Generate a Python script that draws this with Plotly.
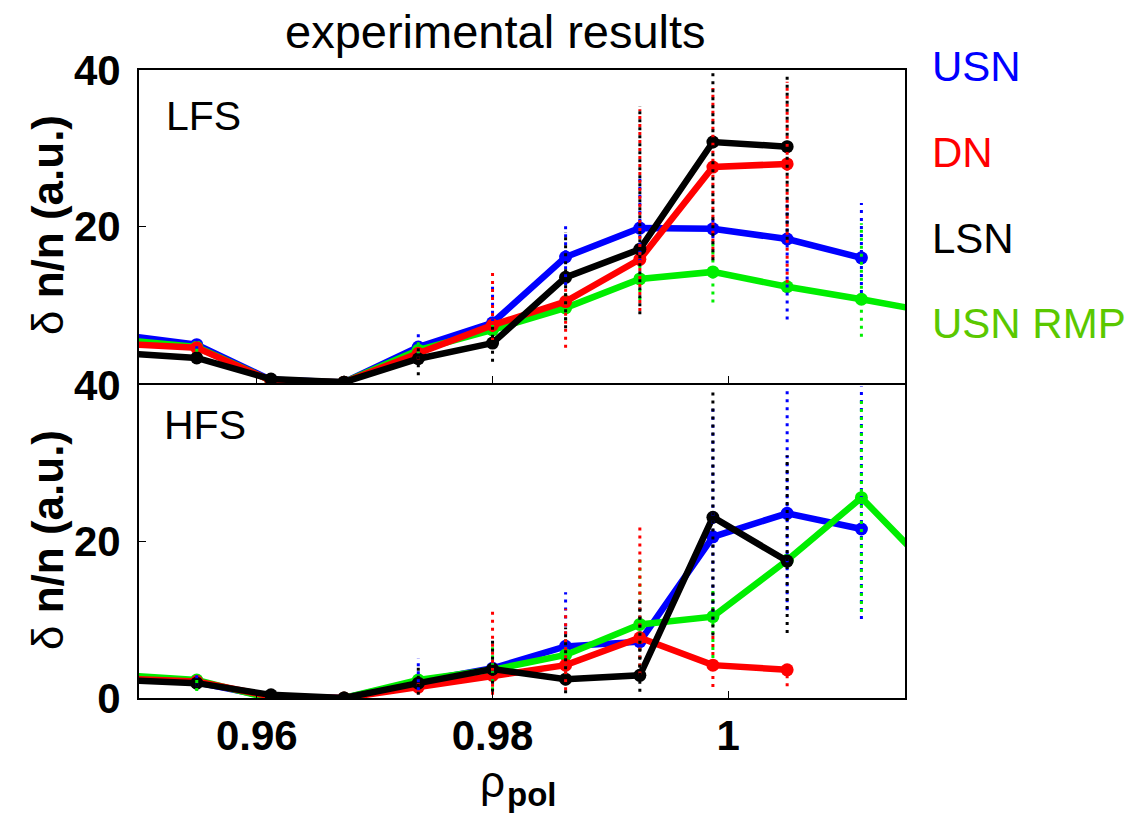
import plotly.graph_objects as go

# radial positions (rho_pol) of the measurement bins
rho = [0.9486, 0.9549, 0.9612, 0.9674, 0.9737, 0.9800, 0.9862, 0.9925, 0.9987, 1.0050, 1.0113, 1.0175]

# mean fluctuation amplitude, low-field side
lfs_usn = [6.1, 4.9, 0.4, 0.1, 4.6, 7.7, 16.1, 19.8, 19.7, 18.4, 16.0, None]
lfs_dn = [5.0, 4.5, 0.3, 0.1, 3.8, 7.4, 10.4, 15.8, 27.6, 28.0, None, None]
lfs_lsn = [3.8, 3.2, 0.5, 0.1, 3.1, 5.1, 13.5, 17.1, 30.8, 30.2, None, None]
lfs_rmp = [5.5, 4.6, 0.3, 0.1, 4.2, 6.8, 9.6, 13.3, 14.2, 12.3, 10.7, 9.0]

# mean fluctuation amplitude, high-field side
hfs_usn = [2.4, 2.0, 0.1, 0.0, 2.1, 3.8, 6.6, 7.2, 20.6, 23.6, 21.6, None]
hfs_dn = [2.5, 2.1, 0.2, 0.0, 1.4, 2.9, 4.2, 7.7, 4.2, 3.6, None, None]
hfs_lsn = [2.3, 1.9, 0.4, 0.0, 1.9, 3.7, 2.4, 2.9, 23.1, 17.5, None, None]
hfs_rmp = [2.9, 2.3, -0.1, 0.0, 2.3, 3.6, 5.5, 9.4, 10.4, 17.6, 25.6, 16.0]

# spread of the individual samples per bin: (bin index, lowest, highest)
lfs_usn_spread = [(1, 4.3, 5.6), (4, 3.8, 6.4), (5, 6.8, 12.4), (6, 12.5, 20.3), (7, 15.5, 26.7),
                  (8, 18.5, 21.0), (9, 8.1, 23.6), (10, 11.5, 23.0)]
lfs_dn_spread = [(4, 3.0, 4.5), (5, 5.5, 14.6), (6, 4.5, 12.5), (7, 9.2, 35.0), (8, 16.0, 37.7),
                 (9, 12.8, 38.5)]
lfs_lsn_spread = [(1, 2.8, 3.6), (4, 1.0, 5.0), (5, 2.7, 7.5), (6, 7.0, 19.3), (7, 8.8, 35.4),
                  (8, 15.7, 40.0), (9, 18.3, 39.6)]
lfs_rmp_spread = [(1, 4.0, 5.0), (4, 3.8, 5.5), (5, 6.0, 8.0), (6, 8.0, 12.0), (7, 10.6, 15.0),
                  (8, 10.3, 18.0), (10, 5.9, 20.4)]

hfs_usn_spread = [(1, 1.5, 3.4), (4, 1.0, 5.1), (5, 2.0, 5.0), (6, 3.0, 13.5), (7, 4.0, 12.0),
                  (8, 10.0, 37.3), (9, 11.2, 39.4), (10, 10.1, 39.8)]
hfs_dn_spread = [(4, 0.5, 2.5), (5, 0.4, 11.2), (6, 1.0, 11.4), (7, 3.0, 22.1), (8, 1.4, 8.0),
                 (9, 1.5, 4.5)]
hfs_lsn_spread = [(1, 1.5, 2.5), (4, 0.4, 4.0), (5, 0.8, 7.6), (6, 0.6, 9.0), (7, 0.8, 13.0),
                  (8, 8.0, 39.6), (9, 8.3, 31.0)]
hfs_rmp_spread = [(1, 0.9, 2.5), (5, 1.0, 6.5), (6, 3.0, 8.0), (7, 4.0, 18.3), (8, 5.1, 14.2),
                  (10, 11.0, 38.5)]

series_names = ["USN", "DN", "LSN", "USN RMP"]
line_colors = {"USN": "#0000ff", "DN": "#ff0000", "LSN": "#000000", "USN RMP": "#00ee00"}
label_colors = {"USN": "#0000ff", "DN": "#ff0000", "LSN": "#000000", "USN RMP": "#5ac800"}

panels = [
    ("y", {"USN": lfs_usn, "DN": lfs_dn, "LSN": lfs_lsn, "USN RMP": lfs_rmp},
     {"USN": lfs_usn_spread, "DN": lfs_dn_spread, "LSN": lfs_lsn_spread, "USN RMP": lfs_rmp_spread}),
    ("y2", {"USN": hfs_usn, "DN": hfs_dn, "LSN": hfs_lsn, "USN RMP": hfs_rmp},
     {"USN": hfs_usn_spread, "DN": hfs_dn_spread, "LSN": hfs_lsn_spread, "USN RMP": hfs_rmp_spread}),
]

draw_order = ["USN", "USN RMP", "DN", "LSN"]

fig = go.Figure()
for yax, means, spreads in panels:
    xax = "x" if yax == "y" else "x2"
    for name in draw_order:
        fig.add_trace(go.Scatter(
            x=rho, y=means[name], xaxis=xax, yaxis=yax, mode="lines+markers",
            line=dict(color=line_colors[name], width=6.5),
            marker=dict(color=line_colors[name], size=13),
            showlegend=False, cliponaxis=True))
    for name in draw_order:
        xs, ys = [], []
        for idx, lo, hi in spreads[name]:
            xs += [rho[idx], rho[idx], None]
            ys += [lo, hi, None]
        fig.add_trace(go.Scatter(
            x=xs, y=ys, xaxis=xax, yaxis=yax, mode="lines",
            line=dict(color=line_colors[name], width=3, dash="3px,5px"),
            showlegend=False))

W, H = 1128, 817
L, R, T, B = 139, 223, 70, 119
pw, ph = W - L - R, H - T - B


def px(xp):
    return (xp - L) / pw


def py(yp):
    return (H - B - yp) / ph


tick_font = dict(family="Liberation Sans, Arial", size=42, color="black", weight="bold")
common_x = dict(range=[0.95, 1.015], tickvals=[0.96, 0.98, 1.0], ticks="inside", ticklen=7,
                tickwidth=1, tickcolor="black", showline=True, linecolor="black", linewidth=2,
                mirror=True, showgrid=False, zeroline=False)
common_y = dict(range=[0, 40], tickvals=[0, 20, 40], ticks="inside", ticklen=7, tickwidth=1,
                tickcolor="black", showline=True, linecolor="black", linewidth=2, mirror=True,
                showgrid=False, zeroline=False, tickfont=tick_font, ticklabelstandoff=8)

split_top = py(383)
split_bot = py(385)

fig.update_layout(
    width=W, height=H, margin=dict(l=L, r=R, t=T, b=B),
    paper_bgcolor="white", plot_bgcolor="white",
    xaxis=dict(common_x, domain=[0, 1], anchor="y", showticklabels=False),
    yaxis=dict(common_y, domain=[split_top, 1], anchor="x", ticktext=["", "20", "40"]),
    xaxis2=dict(common_x, domain=[0, 1], anchor="y2", tickfont=tick_font,
                ticktext=["0.96", "0.98", "1"], ticklabelstandoff=0),
    yaxis2=dict(common_y, domain=[0, split_bot], anchor="x2", ticktext=["0", "20", "40"]),
)


def note(text, x, y, size, color="black", xanchor="center", angle=0, family="Liberation Sans, Arial"):
    return dict(text=text, x=px(x), y=py(y), xref="paper", yref="paper", xanchor=xanchor,
                yanchor="middle", textangle=angle, showarrow=False,
                font=dict(family=family, size=size, color=color))


ann = [note("experimental results", 495, 32, 47)]
for ycen in (225, 540):
    ann.append(note("δ <b>n/n (a.u.)</b>", 47, ycen, 44, angle=-90))
ann.append(note("LFS", 164, 116, 41, xanchor="left"))
ann.append(note("HFS", 162, 425, 41, xanchor="left"))
for name, ycen in zip(series_names, (66, 152, 238, 323)):
    ann.append(note(name, 930, ycen, 42, color=label_colors[name], xanchor="left"))
ann.append(note("ρ", 492, 781, 44))
ann.append(note("<b>pol</b>", 531, 794, 33))
fig.update_layout(annotations=ann)

fig.write_html("out.html")
